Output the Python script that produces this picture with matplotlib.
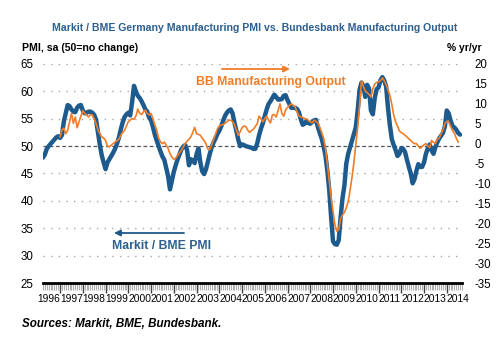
import matplotlib
matplotlib.use("Agg")
import matplotlib.pyplot as plt
import numpy as np

plt.rcParams['font.family'] = ['Liberation Sans', 'DejaVu Sans']

# ---------------- data ----------------
# Markit/BME Germany Manufacturing PMI, monthly, Apr 1996 - Aug 2014
pmi_start = (1996, 4)
pmi_values = [
    47.9, 48.5, 49.5, 50.0, 50.4, 50.8, 51.2, 51.6, 51.8,                    # 1996 Apr-Dec
    51.5, 52.0, 54.5, 56.0, 57.5, 57.3, 56.7, 56.3, 56.2, 57.0, 57.4, 57.5,  # 1997
    56.5, 56.0, 56.1, 56.3, 56.3, 56.1, 55.7, 54.8, 52.5, 50.2, 48.3, 47.0,  # 1998
    45.8, 47.0, 47.6, 48.2, 48.8, 49.5, 50.4, 51.5, 53.0, 54.3, 55.3, 55.8,  # 1999
    56.1, 55.6, 58.0, 61.0, 60.0, 59.2, 58.8, 58.2, 57.5, 56.7, 56.3, 55.2,  # 2000
    54.7, 53.5, 52.1, 51.0, 50.0, 49.0, 48.1, 47.5, 46.0, 44.5, 42.1, 43.7,  # 2001
    45.3, 46.5, 47.6, 48.5, 49.4, 49.9, 50.2, 49.3, 46.5, 47.6, 47.4, 46.9,  # 2002
    48.5, 49.6, 47.0, 45.4, 44.9, 45.8, 47.2, 48.6, 49.8, 50.7, 51.4, 52.2,  # 2003
    52.8, 53.6, 54.6, 55.5, 56.1, 56.5, 56.7, 56.0, 54.3, 52.8, 51.2, 50.0,  # 2004
    50.3, 50.2, 50.0, 49.9, 49.8, 49.7, 49.5, 49.5, 50.5, 52.0, 53.2, 54.2,  # 2005
    55.5, 56.7, 57.7, 58.2, 58.8, 59.4, 59.0, 58.5, 58.5, 58.6, 59.2, 59.3,  # 2006
    58.4, 57.7, 57.0, 57.0, 57.0, 56.8, 56.2, 54.9, 53.9, 54.1, 54.6, 54.2,  # 2007
    54.1, 54.4, 54.7, 54.8, 53.5, 52.4, 51.4, 50.0, 48.3, 45.5, 42.0, 37.0,  # 2008
    32.6, 32.1, 32.0, 32.8, 37.0, 40.5, 42.8, 46.8, 48.6, 49.8, 51.0, 52.2,  # 2009
    53.4, 56.5, 60.3, 61.6, 61.0, 59.0, 61.2, 60.5, 56.5, 55.8, 58.8, 60.4,  # 2010
    60.7, 62.0, 62.6, 62.0, 60.9, 57.0, 53.8, 51.3, 50.2, 49.3, 48.2, 48.6,  # 2011
    49.6, 49.5, 48.9, 47.5, 46.2, 45.0, 43.2, 44.0, 45.5, 46.7, 46.2, 46.2,  # 2012
    47.0, 48.6, 49.6, 50.3, 49.2, 48.6, 49.8, 50.7, 51.4, 51.9, 52.4, 53.6,  # 2013
    56.5, 56.0, 54.7, 53.7, 53.4, 53.0, 52.4, 52.1,                          # 2014 Jan-Aug
]

# Bundesbank manufacturing output, % yr/yr, monthly, Jan 1997 - Jul 2014
bb_start = (1997, 1)
bb_values = [
    1.7, 3.4, 3.9, 2.5, 3.3, 5.5, 7.6, 5.1, 6.7, 4.0, 5.5, 6.9,               # 1997
    8.3, 7.6, 7.2, 6.7, 7.3, 7.2, 6.2, 5.1, 3.4, 2.5, 1.7, 1.4,               # 1998
    0.8, -0.6, -0.8, -0.4, 0.0, 0.4, 0.7, 1.1, 2.1, 2.8, 3.3, 4.4,            # 1999
    5.5, 5.9, 6.3, 6.1, 6.9, 8.7, 7.6, 7.3, 8.0, 8.4, 7.6, 7.2,               # 2000
    7.6, 6.2, 4.7, 3.4, 1.4, 0.4, 0.0, 0.4, -0.4, -1.2, -2.5, -3.4,           # 2001
    -3.9, -3.7, -3.0, -2.3, -1.7, -0.8, 0.0, 0.6, 1.1, 1.7, 2.8, 4.1,         # 2002
    2.5, 2.3, 2.1, 1.4, 0.8, -0.1, -1.4, -1.5, -0.3, 1.1, 2.3, 3.7,           # 2003
    4.4, 4.7, 4.8, 5.1, 5.5, 5.9, 5.9, 5.5, 4.8, 3.4, 2.1, 3.0,               # 2004
    4.0, 4.4, 4.3, 3.4, 2.8, 3.3, 3.6, 4.3, 5.0, 6.9, 6.3, 5.5,               # 2005
    6.3, 6.9, 5.9, 5.2, 7.2, 7.3, 6.7, 8.3, 10.0, 7.6, 6.9, 8.5,              # 2006
    9.1, 9.6, 10.0, 9.6, 9.2, 8.0, 7.0, 6.7, 6.6, 6.3, 6.2, 5.8,              # 2007
    5.5, 5.2, 5.9, 5.6, 5.2, 4.1, 2.8, 1.4, -1.1, -5.1, -9.4, -13.5,          # 2008
    -17.1, -20.4, -22.0, -21.6, -18.8, -17.9, -17.3, -16.1, -14.6, -11.7, -8.5, -4.8,  # 2009
    -0.4, 4.1, 9.6, 15.8, 14.4, 13.2, 12.8, 12.4, 11.7, 13.8, 15.0, 15.4,     # 2010
    15.5, 15.8, 16.5, 15.8, 14.9, 13.5, 12.1, 9.9, 7.2, 5.5, 4.4, 3.2,        # 2011
    2.8, 2.5, 2.1, 1.7, 1.2, 0.8, 0.3, 0.0, 0.0, -0.6, -1.2, -0.7,            # 2012
    -0.3, 0.0, -0.6, -1.0, 0.8, 0.3, 0.0, 1.1, 1.4, 2.5, 3.4, 5.0,            # 2013
    5.6, 5.5, 4.4, 3.3, 2.6, 1.4, 0.4,                                        # 2014 Jan-Jul
]

years = list(range(1996, 2015))
left_ticks = [25, 30, 35, 40, 45, 50, 55, 60, 65]
right_ticks = [-35, -30, -25, -20, -15, -10, -5, 0, 5, 10, 15, 20]

title = "Markit / BME Germany Manufacturing PMI vs. Bundesbank Manufacturing Output"
left_label = "PMI, sa (50=no change)"
right_label = "% yr/yr"
source = "Sources: Markit, BME, Bundesbank."

BLUE = "#1d5a8e"
TITLE_BLUE = "#2d5f8f"
ORANGE = "#f07d28"


def month_axis(start, n):
    y0, m0 = start
    return np.array([y0 + (m0 - 1 + i) / 12.0 for i in range(n)])


pmi_t = month_axis(pmi_start, len(pmi_values))
bb_t = month_axis(bb_start, len(bb_values))

# ---------------- figure ----------------
fig = plt.figure(figsize=(5.0, 3.54), dpi=100)
W, H = 500, 354
ax_l, ax_r, ax_t, ax_b = 43, 462, 64, 283
ax = fig.add_axes([ax_l / W, 1 - ax_b / H, (ax_r - ax_l) / W, (ax_b - ax_t) / H])
ax2 = ax.twinx()

ax.set_xlim(1996.25, 2014.67)
ax.set_ylim(25, 65)
ax2.set_ylim(-35, 20)

# grid
for v in left_ticks:
    if v in (25, 50):
        continue
    ax.axhline(v, color="#a8a8a8", lw=1.0, ls=(0, (1, 4.5)), zorder=1)
ax.axhline(50, color="#555555", lw=0.9, ls=(0, (3, 2)), zorder=1)

# lines
ax.plot(pmi_t, pmi_values, color=BLUE, lw=3.2, solid_capstyle="round",
        solid_joinstyle="round", zorder=3)
ax2.plot(bb_t, bb_values, color=ORANGE, lw=1.2, zorder=4)

# spines
for a in (ax, ax2):
    for s in ("top", "left", "right"):
        a.spines[s].set_visible(False)
ax2.spines["bottom"].set_visible(False)
ax.spines["bottom"].set_linewidth(2.0)
ax.spines["bottom"].set_color("black")

# y ticks
ax.set_yticks(left_ticks)
ax.set_yticklabels([str(v) for v in left_ticks], fontsize=8.3)
ax.tick_params(axis="y", length=0, pad=7)
ax2.set_yticks(right_ticks)
ax2.set_yticklabels([str(v) for v in right_ticks], fontsize=8.3)
ax2.tick_params(axis="y", length=0, pad=9)

# x ticks: year boundaries (major), months (minor)
ax.set_xticks([y for y in years if y > 1996])
ax.set_xticklabels([])
ax.set_xticks(np.arange(1996 + 3 / 12, 2014.67, 1 / 12), minor=True)
ax.tick_params(axis="x", which="major", length=7, width=1.0, color="#444444", direction="out")
ax.tick_params(axis="x", which="minor", length=5, width=0.8, color="#b0b0b0", direction="out")

secx = ax.secondary_xaxis("bottom")
secx.set_xticks([y + 0.5 for y in years])
secx.set_xticklabels([str(y) for y in years], fontsize=7.4)
secx.tick_params(length=0, pad=8)
secx.spines["bottom"].set_visible(False)

# titles / labels
fig.text(255 / W, 1 - 28 / H, title, ha="center", va="center", fontsize=7.55,
         fontweight="bold", color=TITLE_BLUE)
fig.text(22 / W, 1 - 48 / H, left_label, ha="left", va="center", fontsize=7.55,
         fontweight="bold", color="black")
fig.text(482 / W, 1 - 48 / H, right_label, ha="right", va="center", fontsize=7.4,
         fontweight="bold", color="black")
fig.text(22 / W, 1 - 324 / H, source, ha="left", va="center", fontsize=8.4,
         fontweight="bold", style="italic", color="black")

# annotations
fig.text(196 / W, 1 - 82 / H, "BB Manufacturing Output", ha="left", va="center",
         fontsize=8.8, fontweight="bold", color=ORANGE)
fig.text(112 / W, 1 - 246 / H, "Markit / BME PMI", ha="left", va="center",
         fontsize=8.8, fontweight="bold", color=TITLE_BLUE)
ax.annotate("", xy=(290 / W, 1 - 69 / H), xytext=(222 / W, 1 - 69 / H),
            xycoords="figure fraction", textcoords="figure fraction",
            arrowprops=dict(arrowstyle="-|>", color=ORANGE, lw=1.3,
                            mutation_scale=9, shrinkA=0, shrinkB=0))
ax.annotate("", xy=(114 / W, 1 - 233 / H), xytext=(184 / W, 1 - 233 / H),
            xycoords="figure fraction", textcoords="figure fraction",
            arrowprops=dict(arrowstyle="-|>", color=BLUE, lw=1.3,
                            mutation_scale=9, shrinkA=0, shrinkB=0))

fig.savefig("out.png", dpi=100)
